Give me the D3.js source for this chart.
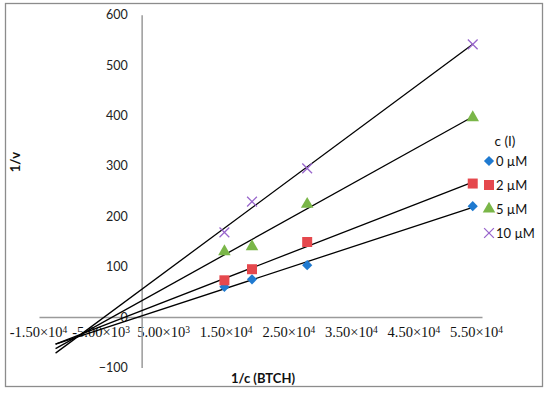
<!DOCTYPE html>
<html><head><meta charset="utf-8">
<script src="https://cdn.jsdelivr.net/npm/d3@7"></script>
<style>body{margin:0;background:#fff}</style>
</head><body><svg id="c" width="550" height="394"></svg>
<script>
// ---- data ----
const xValues = [12500, 16667, 25000, 50000];
const series0 = [60, 75, 103, 220];
const series2 = [73, 95, 149, 265];
const series5 = [130, 140, 224, 396];
const series10 = [168, 229, 295, 541];
const seriesNames = ["0 µM", "2 µM", "5 µM", "10 µM"];
const seriesColors = ["#1f7ad0", "#e5484d", "#7ab648", "#9966cc"];
const seriesSymbols = ["diamond", "square", "triangle", "cross"];
const yTicks = [-100, 0, 100, 200, 300, 400, 500, 600];
const xTickLabels = [-15000, -5000, 5000, 15000, 25000, 35000, 45000, 55000];
const trendStart = -13000;
const legendTitle = "c (I)";
const xTitle = "1/c (BTCH)";
const yTitle = "1/v";

const allSeries = [series0, series2, series5, series10];

const svg = d3.select("#c");
svg.append("rect").attr("x", 5.5).attr("y", 3.5).attr("width", 537).attr("height", 383)
  .attr("fill", "#fff").attr("stroke", "#8c8c8c").attr("stroke-width", 1.3);

const x = d3.scaleLinear().domain([-15500, 51400]).range([39, 482]);
const y = d3.scaleLinear().domain([-100, 600]).range([367.5, 14.7]);
const xl = d3.scaleLinear().domain([-15000, 55000]).range([38, 476]);

// horizontal axis line
const gx = svg.append("g").attr("transform", `translate(0,${y(0)})`)
  .call(d3.axisBottom(x).tickValues([]).tickSizeOuter(0));
gx.select(".domain").attr("stroke", "#9a9a9a").attr("stroke-width", 1.5);

// x tick labels
const gxl = svg.append("g").attr("transform", `translate(0,${y(0)})`)
  .call(d3.axisBottom(xl).tickValues(xTickLabels).tickSize(0).tickPadding(10));
gxl.select(".domain").remove();
gxl.selectAll("text").each(function(d) {
  const t = d3.select(this);
  t.text(null);
  const e = Math.floor(Math.log10(Math.abs(d)));
  const m = (d / Math.pow(10, e)).toFixed(2);
  t.attr("font-family", "'Liberation Serif', serif").attr("font-size", 14.5).attr("fill", "#111");
  t.append("tspan").text(m + "×10");
  t.append("tspan").text(e).attr("font-size", 9.5).attr("dy", "-0.45em");
});

// vertical axis
const gy = svg.append("g").attr("transform", `translate(${x(0)},0)`)
  .call(d3.axisLeft(y).tickValues(yTicks).tickSize(0).tickPadding(14).tickFormat(d3.format("d")));
gy.select(".domain").attr("stroke", "#9a9a9a").attr("stroke-width", 1.5);
gy.selectAll("text").attr("font-family", "Lato, sans-serif").attr("font-size", 12.5).attr("fill", "#222");

// trendlines
const line = d3.line().x(d => x(d[0])).y(d => y(d[1]));
allSeries.forEach(vals => {
  const n = vals.length;
  const mx = d3.mean(xValues), my = d3.mean(vals);
  let sxy = 0, sxx = 0;
  for (let i = 0; i < n; i++) { sxy += (xValues[i] - mx) * (vals[i] - my); sxx += (xValues[i] - mx) ** 2; }
  const b = sxy / sxx, a = my - b * mx;
  const x1 = d3.max(xValues);
  svg.append("path").attr("d", line([[trendStart, a + b * trendStart], [x1, a + b * x1]]))
    .attr("fill", "none").attr("stroke", "#000").attr("stroke-width", 1.3);
});

function marker(g, kind, color) {
  if (kind === "diamond") {
    g.append("path").attr("d", d3.symbol(d3.symbolSquare, 52)()).attr("transform", "rotate(45)").attr("fill", color);
  } else if (kind === "square") {
    g.append("path").attr("d", d3.symbol(d3.symbolSquare, 100)()).attr("fill", color);
  } else if (kind === "triangle") {
    g.append("path").attr("d", d3.symbol(d3.symbolTriangle, 68)()).attr("fill", color);
  } else {
    g.append("path").attr("d", d3.symbol(d3.symbolX, 64)()).attr("fill", "none").attr("stroke", color).attr("stroke-width", 1.3);
  }
}

allSeries.forEach((vals, si) => {
  vals.forEach((v, i) => {
    const g = svg.append("g").attr("transform", `translate(${x(xValues[i])},${y(v)})`);
    marker(g, seriesSymbols[si], seriesColors[si]);
  });
});

// legend
svg.append("text").attr("x", 505).attr("y", 146).attr("text-anchor", "middle")
  .attr("font-family", "Lato, sans-serif").attr("font-size", 13.5).attr("fill", "#111").text(legendTitle);
const legY = [161, 185, 209, 233];
seriesNames.forEach((name, i) => {
  const g = svg.append("g").attr("transform", `translate(489,${legY[i]})`);
  marker(g, seriesSymbols[i], seriesColors[i]);
  svg.append("text").attr("x", 496).attr("y", legY[i] + 4.5)
    .attr("font-family", "Lato, sans-serif").attr("font-size", 13).attr("fill", "#111").text(name);
});

// axis titles
svg.append("text").attr("x", 263).attr("y", 383).attr("text-anchor", "middle")
  .attr("font-family", "Lato, sans-serif").attr("font-weight", "bold").attr("font-size", 13).attr("fill", "#111").text(xTitle);
svg.append("text").attr("transform", "translate(20,162) rotate(-90)").attr("text-anchor", "middle")
  .attr("font-family", "Lato, sans-serif").attr("font-weight", "bold").attr("font-size", 13).attr("fill", "#111").text(yTitle);
</script></body></html>
